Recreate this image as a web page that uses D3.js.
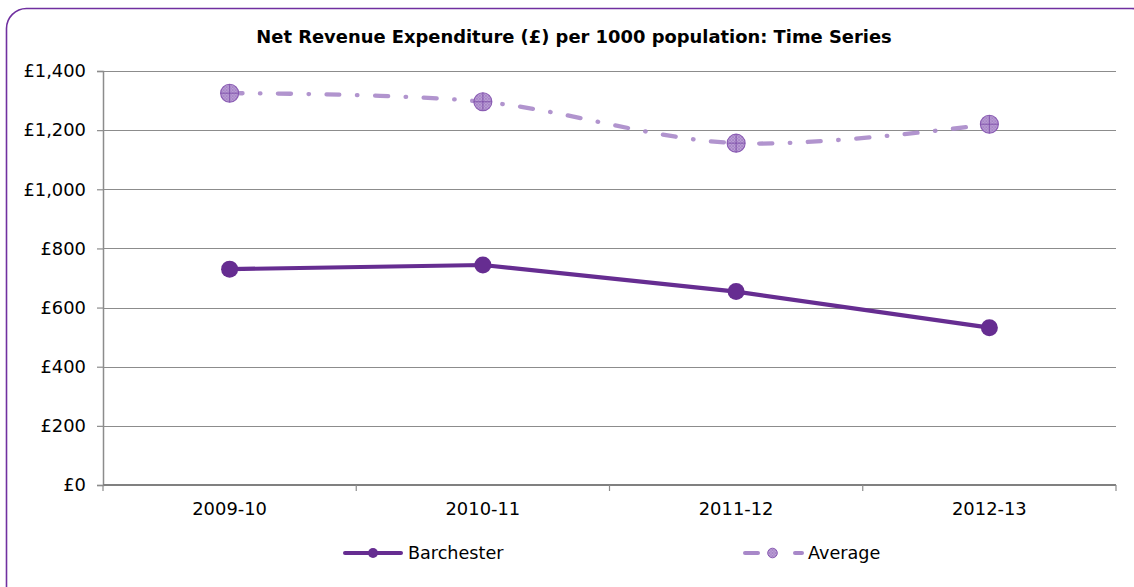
<!DOCTYPE html>
<html>
<head>
<meta charset="utf-8">
<script src="https://cdn.jsdelivr.net/npm/d3@7/dist/d3.min.js"></script>
<style>
  html, body { margin: 0; padding: 0; background: #fff; }
  svg { display: block; font-family: "DejaVu Sans", Verdana, sans-serif; }
</style>
</head>
<body>
<svg id="chart" width="1134" height="587"></svg>
<script>
// Chart data
const categories = ["2009-10", "2010-11", "2011-12", "2012-13"];
const barchester = [730, 744, 654, 532];
const average = [1325, 1296, 1156, 1220];
const yTicks = [0, 200, 400, 600, 800, 1000, 1200, 1400];
const seriesNames = ["Barchester", "Average"];
const title = "Net Revenue Expenditure (£) per 1000 population: Time Series";

const W = 1134, H = 587;
const margin = { left: 103, right: 18, top: 71, bottom: 102 };
const plotW = W - margin.left - margin.right;
const plotH = H - margin.top - margin.bottom;

const svg = d3.select("#chart");

const defs = svg.append("defs");
// fine cross-hatch used by the Average markers and dashes
const pat = defs.append("pattern")
  .attr("id", "hatch").attr("patternUnits", "userSpaceOnUse")
  .attr("width", 3).attr("height", 3);
pat.append("rect").attr("width", 3).attr("height", 3).attr("fill", "#bfa3d8");
pat.append("path").attr("d", "M0,0L3,3M3,0L0,3").attr("stroke", "#9670bb").attr("stroke-width", 0.6);

// outer rounded frame
svg.append("rect")
  .attr("x", 6.5).attr("y", 8.5)
  .attr("width", 1145).attr("height", 600)
  .attr("rx", 20).attr("ry", 20)
  .attr("fill", "#fff")
  .attr("stroke", "#7030a0").attr("stroke-width", 1.6);

svg.append("text")
  .attr("x", 574).attr("y", 43)
  .attr("text-anchor", "middle")
  .attr("font-weight", "bold")
  .attr("font-size", 17.9)
  .attr("fill", "#000")
  .text(title);

const x = d3.scaleBand().domain(categories).range([margin.left, margin.left + plotW]).padding(0);
const y = d3.scaleLinear().domain([0, 1400]).range([margin.top + plotH, margin.top]);
const cx = d => x(d) + x.bandwidth() / 2;

const g = svg.append("g");

// horizontal gridlines
g.selectAll("line.grid").data(yTicks.filter(t => t > 0)).join("line")
  .attr("class", "grid")
  .attr("x1", margin.left).attr("x2", margin.left + plotW)
  .attr("y1", d => Math.round(y(d)) + 0.5).attr("y2", d => Math.round(y(d)) + 0.5)
  .attr("stroke", "#8c8c8c").attr("stroke-width", 1.2);

// y axis
const yAxis = d3.axisLeft(y).tickValues(yTicks).tickSize(6).tickPadding(11)
  .tickFormat(d => "£" + d3.format(",")(d));
const ya = svg.append("g").attr("transform", `translate(${margin.left},0)`).call(yAxis);
ya.select(".domain").attr("stroke", "#8c8c8c").attr("stroke-width", 1.5);
ya.selectAll(".tick line").attr("stroke", "#8c8c8c").attr("stroke-width", 1.2);
ya.selectAll(".tick text").attr("font-size", 17.9).attr("fill", "#000")
  .attr("font-family", "DejaVu Sans, Verdana, sans-serif");

// x axis with ticks at band boundaries
const xa = svg.append("g").attr("transform", `translate(0,${margin.top + plotH})`);
xa.append("line").attr("x1", margin.left).attr("x2", margin.left + plotW)
  .attr("stroke", "#808080").attr("stroke-width", 1.8);
const bounds = categories.map(c => x(c)).concat([margin.left + plotW]);
xa.selectAll("line.tk").data(bounds).join("line")
  .attr("class", "tk")
  .attr("x1", d => d).attr("x2", d => d).attr("y1", 0).attr("y2", 6)
  .attr("stroke", "#8c8c8c").attr("stroke-width", 1.2);
xa.selectAll("text").data(categories).join("text")
  .attr("x", d => cx(d)).attr("y", 30)
  .attr("text-anchor", "middle").attr("font-size", 17.9).attr("fill", "#000")
  .text(d => d);

// Average series: smoothed dash-dot line with hatched markers
const avgLine = d3.line().x((d, i) => cx(categories[i])).y(d => y(d)).curve(d3.curveCatmullRom.alpha(0));
g.append("path").datum(average)
  .attr("d", avgLine)
  .attr("fill", "none")
  .attr("stroke", "#a888c9").attr("stroke-opacity", 0.9)
  .attr("stroke-width", 4.3)
  .attr("stroke-linecap", "round")
  .attr("stroke-dasharray", "13,17.5,0.5,17.5");

function avgMarker(sel, r) {
  sel.append("circle").attr("r", r).attr("fill", "url(#hatch)")
    .attr("stroke", "#8a5cb3").attr("stroke-width", 1.1);
  sel.append("path").attr("d", `M${-r},0H${r}M0,${-r}V${r}`)
    .attr("stroke", "#7a4aa6").attr("stroke-width", 0.8);
}
const am = g.selectAll("g.am").data(average).join("g")
  .attr("class", "am")
  .attr("transform", (d, i) => `translate(${cx(categories[i])},${y(d)})`);
am.each(function () { avgMarker(d3.select(this), 9); });

// Barchester series
const barLine = d3.line().x((d, i) => cx(categories[i])).y(d => y(d));
g.append("path").datum(barchester)
  .attr("d", barLine)
  .attr("fill", "none")
  .attr("stroke", "#662d91").attr("stroke-width", 4.2)
  .attr("stroke-linejoin", "round");
g.selectAll("circle.bm").data(barchester).join("circle")
  .attr("class", "bm")
  .attr("cx", (d, i) => cx(categories[i])).attr("cy", d => y(d))
  .attr("r", 8.5).attr("fill", "#662d91");

// legend
const ly = 553;
const l1 = svg.append("g");
l1.append("line").attr("x1", 345).attr("x2", 401).attr("y1", ly).attr("y2", ly)
  .attr("stroke", "#662d91").attr("stroke-width", 4).attr("stroke-linecap", "round");
l1.append("circle").attr("cx", 373).attr("cy", ly).attr("r", 5).attr("fill", "#662d91");
l1.append("text").attr("x", 408).attr("y", ly + 6).attr("font-size", 17.6).text(seriesNames[0]);

const l2 = svg.append("g");
l2.append("line").attr("x1", 745).attr("x2", 758).attr("y1", ly).attr("y2", ly)
  .attr("stroke", "#a888c9").attr("stroke-width", 4).attr("stroke-linecap", "round");
l2.append("line").attr("x1", 795).attr("x2", 802).attr("y1", ly).attr("y2", ly)
  .attr("stroke", "#a888c9").attr("stroke-width", 4).attr("stroke-linecap", "round");
const lm = l2.append("g").attr("transform", `translate(772.5,${ly})`);
lm.append("circle").attr("r", 4.8).attr("fill", "url(#hatch)").attr("stroke", "#8a5cb3").attr("stroke-width", 1);
l2.append("text").attr("x", 808).attr("y", ly + 6).attr("font-size", 17.6).text(seriesNames[1]);
</script>
</body>
</html>
